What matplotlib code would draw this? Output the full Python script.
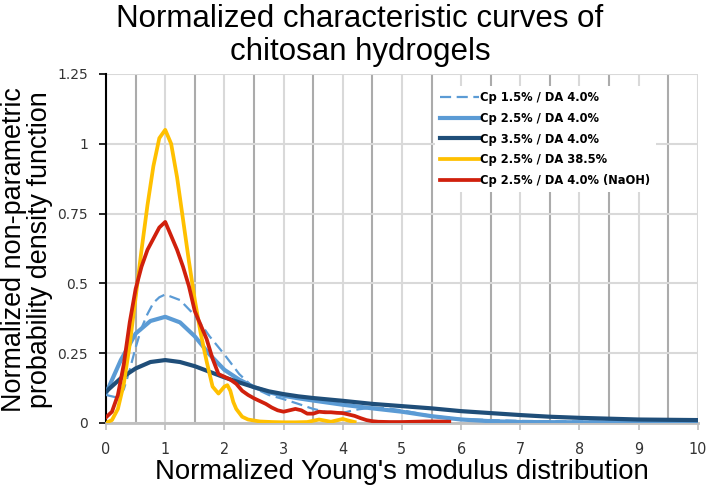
import matplotlib
matplotlib.use("Agg")
import matplotlib.pyplot as plt
from matplotlib.ticker import MultipleLocator, FuncFormatter

# values
x_cp15 = [0, 0.2, 0.3, 0.4, 0.5, 0.6, 0.7, 0.8, 0.9, 1.0, 1.25, 1.5, 1.75, 2.0, 2.25, 2.5,
          2.75, 3.0, 3.25, 3.5, 3.75, 4.0, 4.25, 4.5, 4.75, 5.0, 5.5, 6.0, 6.5, 7, 8, 9, 10]
y_cp15 = [0.10, 0.09, 0.12, 0.19, 0.27, 0.34, 0.39, 0.43, 0.45, 0.46, 0.44, 0.385, 0.31, 0.245,
          0.175, 0.125, 0.10, 0.085, 0.068, 0.05, 0.038, 0.036, 0.048, 0.055, 0.052, 0.045,
          0.025, 0.014, 0.010, 0.007, 0.005, 0.004, 0.002]

x_cp25 = [0, 0.25, 0.5, 0.75, 1, 1.25, 1.5, 1.75, 2, 2.25, 2.5, 2.75, 3, 3.25, 3.5, 4,
          4.5, 5, 5.5, 6, 6.5, 7, 8, 9, 10]
y_cp25 = [0.106, 0.225, 0.32, 0.365, 0.38, 0.36, 0.31, 0.245, 0.19, 0.155, 0.128, 0.11,
          0.097, 0.088, 0.08, 0.065, 0.052, 0.04, 0.024, 0.012, 0.006, 0.003, 0.002, 0.002, 0.002]

x_cp35 = [0, 0.25, 0.5, 0.75, 1, 1.25, 1.5, 1.75, 2, 2.25, 2.5, 2.75, 3, 3.25, 3.5, 4,
          4.5, 5, 5.5, 6, 6.5, 7, 7.5, 8, 8.5, 9, 9.5, 10]
y_cp35 = [0.112, 0.16, 0.195, 0.218, 0.225, 0.218, 0.203, 0.183, 0.163, 0.145, 0.128, 0.113,
          0.103, 0.095, 0.089, 0.079, 0.068, 0.06, 0.052, 0.042, 0.035, 0.028, 0.022, 0.018,
          0.015, 0.012, 0.011, 0.01]

x_da385 = [0, 0.1, 0.2, 0.3, 0.4, 0.5, 0.6, 0.7, 0.8, 0.9, 1.0, 1.1, 1.2, 1.3, 1.4, 1.5, 1.6,
           1.7, 1.8, 1.9, 2.0, 2.05, 2.1, 2.15, 2.2, 2.3, 2.4, 2.6, 2.8, 3.0, 3.2, 3.4, 3.6,
           3.7, 3.8, 4.0, 4.1, 4.2]
y_da385 = [0.0, 0.01, 0.05, 0.14, 0.28, 0.45, 0.62, 0.78, 0.92, 1.02, 1.05, 1.0, 0.88, 0.73,
           0.58, 0.44, 0.32, 0.22, 0.13, 0.105, 0.13, 0.135, 0.115, 0.075, 0.05, 0.022, 0.012,
           0.005, 0.003, 0.002, 0.002, 0.003, 0.012, 0.008, 0.004, 0.014, 0.008, 0.003]

x_naoh = [0, 0.1, 0.2, 0.3, 0.4, 0.5, 0.6, 0.7, 0.8, 0.9, 1.0, 1.1, 1.2, 1.3, 1.4, 1.5, 1.6,
          1.7, 1.8, 1.9, 2.0, 2.1, 2.2, 2.3, 2.4, 2.5, 2.6, 2.7, 2.8, 2.9, 3.0, 3.1, 3.2, 3.3,
          3.4, 3.5, 3.6, 3.7, 3.8, 3.9, 4.0, 4.1, 4.2, 4.3, 4.4, 4.5, 4.6, 4.8, 5.0, 5.2, 5.4,
          5.6, 5.8]
y_naoh = [0.02, 0.04, 0.10, 0.21, 0.36, 0.48, 0.56, 0.62, 0.66, 0.70, 0.72, 0.67, 0.62, 0.56,
          0.49, 0.40, 0.35, 0.30, 0.23, 0.175, 0.165, 0.155, 0.14, 0.115, 0.1, 0.088, 0.078,
          0.068, 0.055, 0.045, 0.04, 0.045, 0.05, 0.045, 0.033, 0.033, 0.04, 0.038, 0.038,
          0.036, 0.035, 0.03, 0.025, 0.017, 0.01, 0.006, 0.004, 0.003, 0.003, 0.004, 0.005,
          0.005, 0.004]

labels = ["Cp 1.5% / DA 4.0%", "Cp 2.5% / DA 4.0%", "Cp 3.5% / DA 4.0%",
          "Cp 2.5% / DA 38.5%", "Cp 2.5% / DA 4.0% (NaOH)"]

plt.rcParams['font.family'] = ['Liberation Sans', 'DejaVu Sans']

fig = plt.figure(figsize=(7.07, 4.90), dpi=100)
ax = fig.add_axes([0.150, 0.137, 0.837, 0.712])

ax.plot(x_cp15, y_cp15, color="#5B9BD5", lw=1.6, ls=(0, (5, 2.5)), label=labels[0], zorder=3)
ax.plot(x_cp25, y_cp25, color="#5B9BD5", lw=3.0, label=labels[1], zorder=3)
ax.plot(x_cp35, y_cp35, color="#1F4E79", lw=3.0, label=labels[2], zorder=3)
ax.plot(x_da385, y_da385, color="#FFC000", lw=2.7, label=labels[3], zorder=4)
ax.plot(x_naoh, y_naoh, color="#D0200C", lw=2.7, label=labels[4], zorder=5)

ax.set_xlim(0, 10)
ax.set_ylim(0, 1.25)
ax.xaxis.set_major_locator(MultipleLocator(1))
ax.xaxis.set_minor_locator(MultipleLocator(0.5))
ax.yaxis.set_major_locator(MultipleLocator(0.25))
ax.yaxis.set_major_formatter(FuncFormatter(lambda v, p: f"{v:g}"))

ax.grid(True, which="major", axis="x", color="#D9D9D9", lw=1.5)
ax.grid(True, which="minor", axis="x", color="#ABABAB", lw=1.5)
ax.grid(True, which="major", axis="y", color="#D9D9D9", lw=1.5)
ax.set_axisbelow(True)

for s in ["top", "right"]:
    ax.spines[s].set_visible(False)
ax.spines["left"].set_color("black")
ax.spines["left"].set_linewidth(1.5)
ax.spines["bottom"].set_color("#BFBFBF")
ax.spines["bottom"].set_linewidth(2)

ax.tick_params(axis="y", which="major", direction="out", length=5, width=1.2, color="black",
               labelsize=10, pad=8, labelcolor="#333333")
ax.tick_params(axis="x", which="major", direction="out", length=5, width=1.2, color="#BFBFBF",
               labelsize=11.5, pad=9, labelcolor="#333333")
ax.tick_params(axis="x", which="minor", length=0)
for t in ax.get_yticklabels():
    t.set_family("DejaVu Sans")
for t in ax.get_xticklabels():
    t.set_family("DejaVu Sans")
    t.set_fontstretch("condensed")

fig.text(0.509, 0.992, "Normalized characteristic curves of\nchitosan hydrogels", fontsize=22.5,
         ha="center", va="top", linespacing=1.15)
ax.set_xlabel("Normalized Young's modulus distribution", fontsize=19.8, labelpad=1)
fig.text(0.038, 0.49, "Normalized non-parametric\nprobability density function", fontsize=19.4,
         rotation=90, ha="center", va="center", linespacing=1.0)

leg = ax.legend(loc="upper left", bbox_to_anchor=(0.556, 0.965), frameon=True, facecolor="white",
                edgecolor="none", framealpha=1, handlelength=3.0, handletextpad=0.15,
                labelspacing=0.6, borderaxespad=0.0,
                prop={'family': 'DejaVu Sans', 'stretch': 'condensed', 'weight': 'bold',
                      'size': 9.2})
leg.set_zorder(10)

fig.savefig("out.png", dpi=100)
